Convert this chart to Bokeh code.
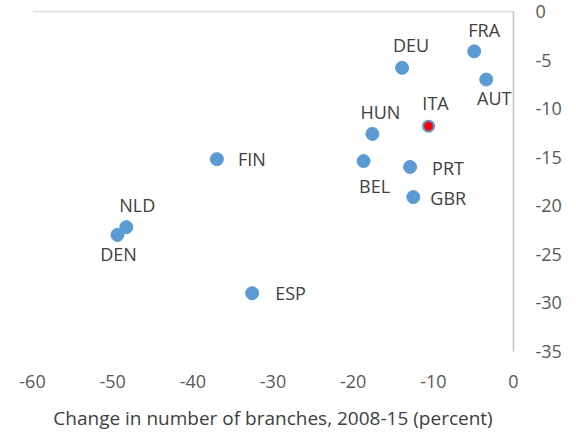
from bokeh.plotting import figure
from bokeh.models import Range1d, FixedTicker, ColumnDataSource, Span, CustomJSTickFormatter
from bokeh.core.properties import value
from bokeh.embed import file_html
from bokeh.resources import INLINE

# Data
countries = ["FRA", "AUT", "DEU", "HUN", "ITA", "BEL", "PRT", "GBR", "FIN", "ESP", "NLD", "DEN"]
branches_change = [-4.9, -3.4, -13.9, -17.6, -10.6, -18.7, -12.9, -12.5, -37.0, -32.6, -48.3, -49.4]
other_change = [-4.1, -7.0, -5.8, -12.6, -11.8, -15.4, -16.0, -19.1, -15.2, -29.0, -22.2, -23.0]
highlight = "ITA"
x_ticks = [-60, -50, -40, -30, -20, -10, 0]
y_ticks = [0, -5, -10, -15, -20, -25, -30, -35]
x_title = "Change in number of branches, 2008-15 (percent)"

# Label placement (style only, pixel offsets)
label_dx = [10, 8, 9, 8, 7, 11, 22, 17, 21, 23, 11, 1]
label_dy = [21, -18, 23, 22, 23, -25, -1, -1, 0, 0, 22, -19]
label_align = ["center", "center", "center", "center", "center", "center",
               "left", "left", "left", "left", "center", "center"]

BLUE = "#5b9bd5"
fill = ["#ff0000" if c == highlight else BLUE for c in countries]
lw = [2 if c == highlight else 1 for c in countries]
sizes = [11 if c == highlight else 13 for c in countries]

src = ColumnDataSource(dict(x=branches_change, y=other_change, c=countries,
                            fill=fill, lw=lw, size=sizes,
                            dx=label_dx, dy=[-d for d in label_dy], align=label_align))

p = figure(width=576, height=437,
           min_border_left=32, min_border_right=63, min_border_top=11, min_border_bottom=86,
           x_range=Range1d(-60, 0), y_range=Range1d(-35, 0),
           y_axis_location="right", output_backend="svg", toolbar_location=None,
           background_fill_color="white", border_fill_color="white")
p.outline_line_color = None
p.grid.visible = False

FONT = "Open Sans"
fmt = CustomJSTickFormatter(code="return String(tick);")

xa = p.xaxis[0]
xa.ticker = FixedTicker(ticks=x_ticks)
xa.formatter = fmt
xa.axis_line_color = None
xa.major_tick_line_color = None
xa.minor_tick_line_color = None
xa.major_tick_out = 0
xa.major_tick_in = 0
xa.major_label_standoff = 23
xa.major_label_text_font = FONT
xa.major_label_text_font_size = "18px"
xa.major_label_text_color = "#595959"
xa.axis_label = x_title
xa.axis_label_text_font = FONT
xa.axis_label_text_font_size = "19px"
xa.axis_label_text_font_style = "normal"
xa.axis_label_text_color = "#404040"
xa.axis_label_standoff = 14

ya = p.yaxis[0]
ya.ticker = FixedTicker(ticks=y_ticks)
ya.formatter = fmt
ya.axis_line_color = "#bfbfbf"
ya.axis_line_width = 1.5
ya.major_tick_line_color = None
ya.minor_tick_line_color = None
ya.major_tick_out = 0
ya.major_tick_in = 0
ya.major_label_standoff = 22
ya.major_label_text_font = FONT
ya.major_label_text_font_size = "18px"
ya.major_label_text_color = "#595959"

p.add_layout(Span(location=0, dimension="width", line_color="#bfbfbf", line_width=1.5))

p.scatter("x", "y", source=src, size="size", fill_color="fill", line_color=BLUE,
          line_width="lw")
p.text("x", "y", text="c", source=src, x_offset="dx", y_offset="dy",
       text_align="align", text_baseline="middle",
       text_font=value(FONT), text_font_size="18px", text_color="#404040")

open("out.html", "w").write(file_html(p, INLINE))
